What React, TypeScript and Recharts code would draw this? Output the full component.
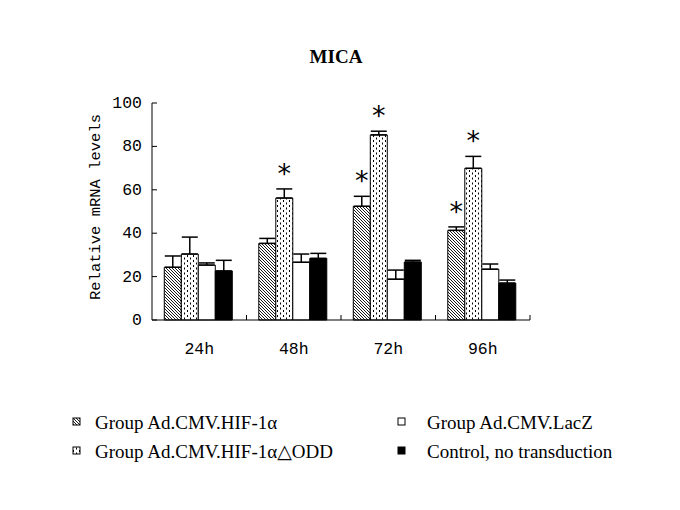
import React from "react";
import {
	BarChart,
	Bar,
	XAxis,
	YAxis,
	ErrorBar,
	LabelList,
	Customized,
} from "recharts";

const categories = ["24h", "48h", "72h", "96h"];

const hifValues = [24.3, 35.3, 52.4, 41.3];
const hifErrors = [5.2, 2.3, 4.6, 1.6];
const hifSignificant = [false, false, true, true];

const oddValues = [30.4, 56.2, 85.3, 69.9];
const oddErrors = [7.8, 4.2, 1.7, 5.5];
const oddSignificant = [false, true, true, true];

const laczValues = [25.3, 26.6, 18.8, 23.4];
const laczErrors = [1.0, 3.8, 4.2, 2.4];

const controlValues = [22.6, 28.4, 26.7, 17.0];
const controlErrors = [4.9, 2.3, 0.8, 1.4];

const yTicks = [0, 20, 40, 60, 80, 100];

const legendItems = [
	{ label: "Group Ad.CMV.HIF-1α", fill: "url(#hatch)" },
	{ label: "Group Ad.CMV.HIF-1α△ODD", fill: "url(#dots)" },
	{ label: "Group Ad.CMV.LacZ", fill: "#fff" },
	{ label: "Control, no transduction", fill: "#000" },
];

const chartData = categories.map((name, i) => ({
	name,
	hif: hifValues[i],
	hifErr: [0, hifErrors[i]],
	odd: oddValues[i],
	oddErr: [0, oddErrors[i]],
	lacz: laczValues[i],
	laczErr: [0, laczErrors[i]],
	control: controlValues[i],
	controlErr: [0, controlErrors[i]],
}));

const WIDTH = 680;
const HEIGHT = 510;
const MARGIN = { top: 103, right: 150, left: 102, bottom: 160 };
const Y_AXIS_W = 50;
const PLOT_W = WIDTH - MARGIN.left - Y_AXIS_W - MARGIN.right;
const HALF_BAND = PLOT_W / categories.length / 2;

const monoFont = "'Liberation Mono', 'DejaVu Sans Mono', monospace";
const serifFont = "'Liberation Serif', 'DejaVu Serif', serif";

const makeStar = (errors: number[], sig: boolean[]) => (props: any) => {
	const { x, y, width, height, value, index } = props;
	if (!sig[index]) return null;
	const perUnit = height / value;
	const errTop = y - errors[index] * perUnit;
	return (
		<text
			x={x + width / 2}
			y={errTop - 6}
			textAnchor="middle"
			fontSize={27}
			fontFamily="'DejaVu Sans', sans-serif"
			fill="#000"
		>
			*
		</text>
	);
};

const YTick = (props: any) => {
	const { x, y, payload } = props;
	return (
		<g>
			<line x1={x} y1={y} x2={x + 5} y2={y} stroke="#000" />
			<text
				x={x - 10}
				y={y}
				dy={5}
				textAnchor="end"
				fontSize={16.5}
				fontFamily={monoFont}
				fill="#000"
			>
				{payload.value}
			</text>
		</g>
	);
};

const XTick = (props: any) => {
	const { x, y, payload } = props;
	const bx = x + HALF_BAND;
	return (
		<g>
			<line x1={bx} y1={y} x2={bx} y2={y - 5} stroke="#000" />
			<text
				x={x}
				y={y + 34}
				textAnchor="middle"
				fontSize={16.5}
				fontFamily={monoFont}
				fill="#000"
			>
				{payload.value}
			</text>
		</g>
	);
};

const Overlay = () => (
	<g>
		<defs>
			<pattern id="hatch" width="3" height="3" patternUnits="userSpaceOnUse">
				<rect width="3" height="3" fill="#fff" />
				<path
					d="M-1,-1 L4,4 M-1,2 L1,4 M2,-1 L4,1"
					stroke="#000"
					strokeWidth={0.9}
				/>
			</pattern>
			<pattern id="dots" width="6" height="5" patternUnits="userSpaceOnUse">
				<rect width="6" height="5" fill="#fff" />
				<rect x="1" y="0" width="1" height="2" fill="#000" />
				<rect x="4" y="2.5" width="1" height="2" fill="#000" />
			</pattern>
		</defs>
		<text
			x={336}
			y={63}
			textAnchor="middle"
			fontSize={19}
			fontWeight="bold"
			fontFamily={serifFont}
			fill="#000"
		>
			MICA
		</text>
		<text
			x={100}
			y={207}
			transform="rotate(-90 100 207)"
			textAnchor="middle"
			fontSize={15.5}
			fontFamily={monoFont}
			fill="#000"
		>
			Relative mRNA levels
		</text>
		{legendItems.map((item, i) => {
			const col = Math.floor(i / 2);
			const row = i % 2;
			const ix = col === 0 ? 73 : 398;
			const tx = col === 0 ? 95 : 427;
			const cy = row === 0 ? 422 : 451;
			return (
				<g key={item.label}>
					<rect
						x={ix}
						y={cy - 4}
						width={7}
						height={7}
						fill={item.fill}
						stroke="#000"
					/>
					<text
						x={tx}
						y={cy + 7}
						fontSize={19}
						fontFamily={serifFont}
						fill="#000"
					>
						{item.label}
					</text>
				</g>
			);
		})}
	</g>
);

export default function App() {
	return (
		<div style={{ position: "absolute", left: 0, top: 0 }}>
			<BarChart
				width={WIDTH}
				height={HEIGHT}
				data={chartData}
				margin={MARGIN}
				barCategoryGap="13%"
				barGap={0}
			>
				<XAxis
					dataKey="name"
					stroke="#000"
					tickLine={false}
					tickSize={0}
					tickMargin={0}
					tick={<XTick />}
					interval={0}
				/>
				<YAxis
					width={Y_AXIS_W}
					domain={[0, 100]}
					ticks={yTicks}
					stroke="#000"
					tickLine={false}
					tickSize={0}
					tickMargin={0}
					tick={<YTick />}
				/>
				<Bar dataKey="hif" fill="url(#hatch)" stroke="#000" isAnimationActive={false}>
					<ErrorBar dataKey="hifErr" width={8} stroke="#000" direction="y" />
					<LabelList dataKey="hif" content={makeStar(hifErrors, hifSignificant)} />
				</Bar>
				<Bar dataKey="odd" fill="url(#dots)" stroke="#000" isAnimationActive={false}>
					<ErrorBar dataKey="oddErr" width={8} stroke="#000" direction="y" />
					<LabelList dataKey="odd" content={makeStar(oddErrors, oddSignificant)} />
				</Bar>
				<Bar dataKey="lacz" fill="#fff" stroke="#000" isAnimationActive={false}>
					<ErrorBar dataKey="laczErr" width={8} stroke="#000" direction="y" />
				</Bar>
				<Bar dataKey="control" fill="#000" stroke="#000" isAnimationActive={false}>
					<ErrorBar dataKey="controlErr" width={8} stroke="#000" direction="y" />
				</Bar>
				<Customized component={Overlay} />
			</BarChart>
		</div>
	);
}
